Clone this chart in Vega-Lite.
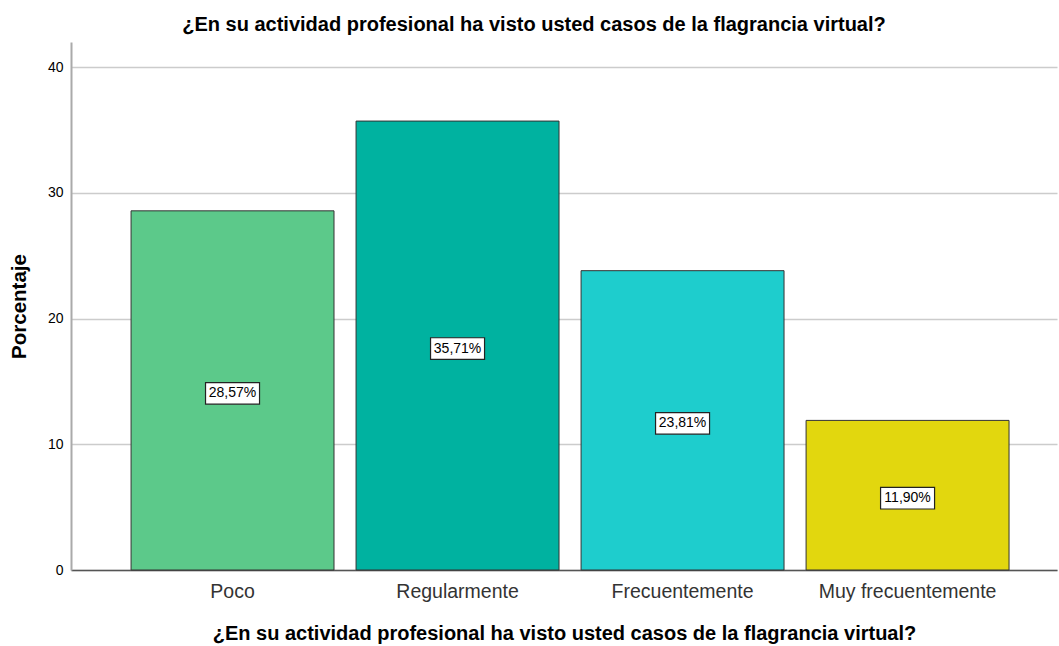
{
  "$schema": "https://vega.github.io/schema/vega-lite/v6.json",
  "width": 986,
  "height": 528,
  "autosize": {"type": "none"},
  "padding": {"left": 71, "top": 42, "right": 2, "bottom": 76},
  "background": "white",
  "title": {
    "text": "¿En su actividad profesional ha visto usted casos de la flagrancia virtual?",
    "font": "Liberation Sans",
    "fontSize": 20,
    "fontWeight": "bold",
    "color": "#000000",
    "anchor": "middle",
    "dx": -30,
    "offset": 7
  },
  "config": {
    "view": {"stroke": null},
    "font": "Liberation Sans"
  },
  "data": {
    "values": [
      {"cat": "Poco", "pct": 28.57, "label": "28,57%"},
      {"cat": "Regularmente", "pct": 35.71, "label": "35,71%"},
      {"cat": "Frecuentemente", "pct": 23.81, "label": "23,81%"},
      {"cat": "Muy frecuentemente", "pct": 11.90, "label": "11,90%"}
    ]
  },
  "transform": [{"calculate": "datum.pct / 2", "as": "mid"}],
  "encoding": {
    "x": {
      "field": "cat",
      "type": "nominal",
      "sort": null,
      "scale": {"paddingInner": 0.098, "paddingOuter": 0.24, "align": 0.556},
      "axis": {
        "title": "¿En su actividad profesional ha visto usted casos de la flagrancia virtual?",
        "titleFont": "Liberation Sans",
        "titleFontSize": 20,
        "titleFontWeight": "bold",
        "titleColor": "#000000",
        "titlePadding": 23,
        "labelAngle": 0,
        "labelFontSize": 19.5,
        "labelColor": "#333333",
        "labelPadding": 12,
        "ticks": false,
        "domainColor": "#555555",
        "domainWidth": 1.5,
        "grid": false
      }
    }
  },
  "layer": [
    {
      "mark": {"type": "bar", "stroke": "#333333", "strokeWidth": 1},
      "encoding": {
        "y": {
          "field": "pct",
          "type": "quantitative",
          "scale": {"domain": [0, 42], "nice": false},
          "axis": {
            "title": "Porcentaje",
            "titleFontSize": 20.5,
            "titleFontWeight": "bold",
            "titleColor": "#000000",
            "titlePadding": 18,
            "values": [0, 10, 20, 30, 40],
            "labelFontSize": 14,
            "labelColor": "#000000",
            "labelPadding": 8,
            "ticks": false,
            "domainColor": "#aaaaaa",
            "domainWidth": 2,
            "grid": true,
            "gridColor": "#cccccc",
            "gridWidth": 1.5
          }
        },
        "color": {
          "field": "cat",
          "type": "nominal",
          "sort": null,
          "scale": {
            "domain": ["Poco", "Regularmente", "Frecuentemente", "Muy frecuentemente"],
            "range": ["#5cc98a", "#00b2a0", "#1ecdcd", "#e2d70e"]
          },
          "legend": null
        }
      }
    },
    {
      "mark": {
        "type": "point",
        "shape": "M-1,-0.4L1,-0.4L1,0.4L-1,0.4Z",
        "size": 2916,
        "filled": true,
        "fill": "white",
        "stroke": "#222222",
        "strokeWidth": 1.2,
        "opacity": 1,
        "yOffset": 3
      },
      "encoding": {
        "y": {"field": "mid", "type": "quantitative"}
      }
    },
    {
      "mark": {"type": "text", "fontSize": 14, "color": "#000000", "baseline": "middle", "align": "center", "yOffset": 3},
      "encoding": {
        "y": {"field": "mid", "type": "quantitative"},
        "text": {"field": "label"}
      }
    }
  ]
}
